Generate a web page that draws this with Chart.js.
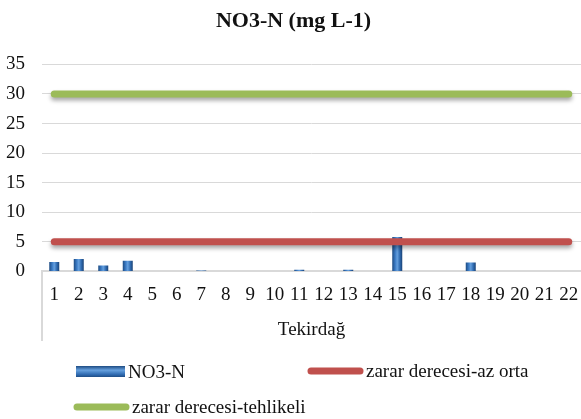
<!DOCTYPE html>
<html>
<head>
<meta charset="utf-8">
<script src="https://cdn.jsdelivr.net/npm/chart.js@4/dist/chart.umd.min.js"></script>
<style>
  html, body { margin: 0; padding: 0; background: #fff; overflow: hidden; }
  #chart { display: block; }
</style>
</head>
<body>
<canvas id="chart" width="581" height="419"></canvas>
<script>
// Tekirdağ stations
const categories = ['1', '2', '3', '4', '5', '6', '7', '8', '9', '10', '11',
                    '12', '13', '14', '15', '16', '17', '18', '19', '20', '21', '22'];
const no3Values = [1.6, 2.1, 1.0, 1.8, 0, 0, 0.15, 0, 0, 0, 0.3,
                   0, 0.3, 0, 5.8, 0, 0, 1.5, 0, 0, 0, 0];
const azOrta = [5, 5, 5, 5, 5, 5, 5, 5, 5, 5, 5,
                5, 5, 5, 5, 5, 5, 5, 5, 5, 5, 5];
const tehlikeli = [30, 30, 30, 30, 30, 30, 30, 30, 30, 30, 30,
                   30, 30, 30, 30, 30, 30, 30, 30, 30, 30, 30];
const yMin = 0, yMax = 35, yStep = 5;
const groupLabel = 'Tekirdağ';

const FONT = "'Times New Roman', 'Liberation Serif', serif";
Chart.defaults.font.family = FONT;
Chart.defaults.color = '#111';

const BAR_W = 10;

// cylinder-like shading for the bars
function barFill(ctx) {
    const chart = ctx.chart;
    if (!chart.chartArea || ctx.type !== 'data') return '#2f68ad';
    const x = chart.scales.x.getPixelForValue(ctx.dataIndex);
    const g = chart.ctx.createLinearGradient(x - BAR_W / 2, 0, x + BAR_W / 2, 0);
    g.addColorStop(0, '#1d4b82');
    g.addColorStop(0.3, '#3c7cc6');
    g.addColorStop(0.5, '#66a0de');
    g.addColorStop(0.75, '#306cb2');
    g.addColorStop(1, '#1a4275');
    return g;
}

// soft drop shadow under the reference lines
const lineShadow = {
    id: 'lineShadow',
    beforeDatasetDraw(chart, args) {
        if (args.meta.type !== 'line') return;
        const c = chart.ctx;
        c.save();
        c.shadowColor = 'rgba(0,0,0,0.35)';
        c.shadowBlur = 4;
        c.shadowOffsetY = 3;
    },
    afterDatasetDraw(chart, args) {
        if (args.meta.type !== 'line') return;
        chart.ctx.restore();
    }
};

// left edge of the category group box under the axis
const groupBox = {
    id: 'groupBox',
    afterDraw(chart) {
        const c = chart.ctx;
        const a = chart.chartArea;
        const xs = chart.scales.x;
        c.save();
        c.strokeStyle = '#d9d9d9';
        c.lineWidth = 2;
        c.beginPath();
        c.moveTo(a.left, a.bottom);
        c.lineTo(a.left, xs.bottom);
        c.stroke();
        c.restore();
    }
};

// legend laid out in two columns like the original
const gridLegend = {
    id: 'gridLegend',
    afterDraw(chart) {
        const c = chart.ctx;
        const ds = chart.data.datasets;
        const slots = [
            { x: 76, y: 372 },
            { x: 307, y: 371 },
            { x: 73, y: 407 }
        ];
        c.save();
        c.font = '19px ' + FONT;
        c.textBaseline = 'middle';
        ds.forEach((d, i) => {
            const s = slots[i];
            let tx;
            if (d.type === 'bar') {
                const g = c.createLinearGradient(0, s.y - 6, 0, s.y + 6);
                g.addColorStop(0, '#1d4b82');
                g.addColorStop(0.35, '#66a0de');
                g.addColorStop(0.7, '#306cb2');
                g.addColorStop(1, '#1a4275');
                c.fillStyle = g;
                c.fillRect(s.x, s.y - 6, 49, 11);
                tx = s.x + 52;
            } else {
                c.strokeStyle = d.borderColor;
                c.lineWidth = 7;
                c.lineCap = 'round';
                c.beginPath();
                c.moveTo(s.x + 4, s.y);
                c.lineTo(s.x + 53, s.y);
                c.stroke();
                tx = s.x + 59;
            }
            c.fillStyle = '#111';
            c.fillText(d.label, tx, s.y + 1);
        });
        c.restore();
    }
};

new Chart(document.getElementById('chart'), {
    data: {
        labels: categories,
        datasets: [
            {
                type: 'bar',
                label: 'NO3-N',
                data: no3Values,
                backgroundColor: barFill,
                borderWidth: 0,
                inflateAmount: 0,
                barThickness: BAR_W,
                order: 1
            },
            {
                type: 'line',
                label: 'zarar derecesi-az orta',
                data: azOrta,
                borderColor: '#c0504d',
                borderWidth: 7,
                borderCapStyle: 'round',
                pointRadius: 0,
                pointHoverRadius: 0,
                order: 0
            },
            {
                type: 'line',
                label: 'zarar derecesi-tehlikeli',
                data: tehlikeli,
                borderColor: '#9bbb59',
                borderWidth: 7,
                borderCapStyle: 'round',
                pointRadius: 0,
                pointHoverRadius: 0,
                order: 0
            }
        ]
    },
    options: {
        responsive: false,
        animation: false,
        layout: { padding: { left: 6, right: 0, top: 0, bottom: 78 } },
        plugins: {
            legend: { display: false },
            tooltip: { enabled: false },
            title: {
                display: true,
                text: 'NO3-N (mg L-1)',
                font: { size: 22, weight: 'bold' },
                color: '#111',
                padding: { top: 8, bottom: 30 }
            }
        },
        scales: {
            x: {
                offset: true,
                grid: { display: false, drawTicks: false },
                border: { display: true, color: '#d9d9d9', width: 2 },
                ticks: { font: { size: 19 }, padding: 12, maxRotation: 0, autoSkip: false },
                title: {
                    display: true,
                    text: groupLabel,
                    font: { size: 19 },
                    padding: { top: 0, bottom: 0 }
                },
                // let the plot run to the right edge, as in the original
                afterFit(scale) { scale.paddingRight = 0; }
            },
            y: {
                min: yMin,
                max: yMax,
                grid: { color: '#d9d9d9', lineWidth: 1, drawTicks: false },
                border: { display: false },
                ticks: { stepSize: yStep, font: { size: 19 }, padding: 17 },
                afterFit(scale) { scale.width = 36; }
            }
        }
    },
    plugins: [lineShadow, groupBox, gridLegend]
});
</script>
</body>
</html>
